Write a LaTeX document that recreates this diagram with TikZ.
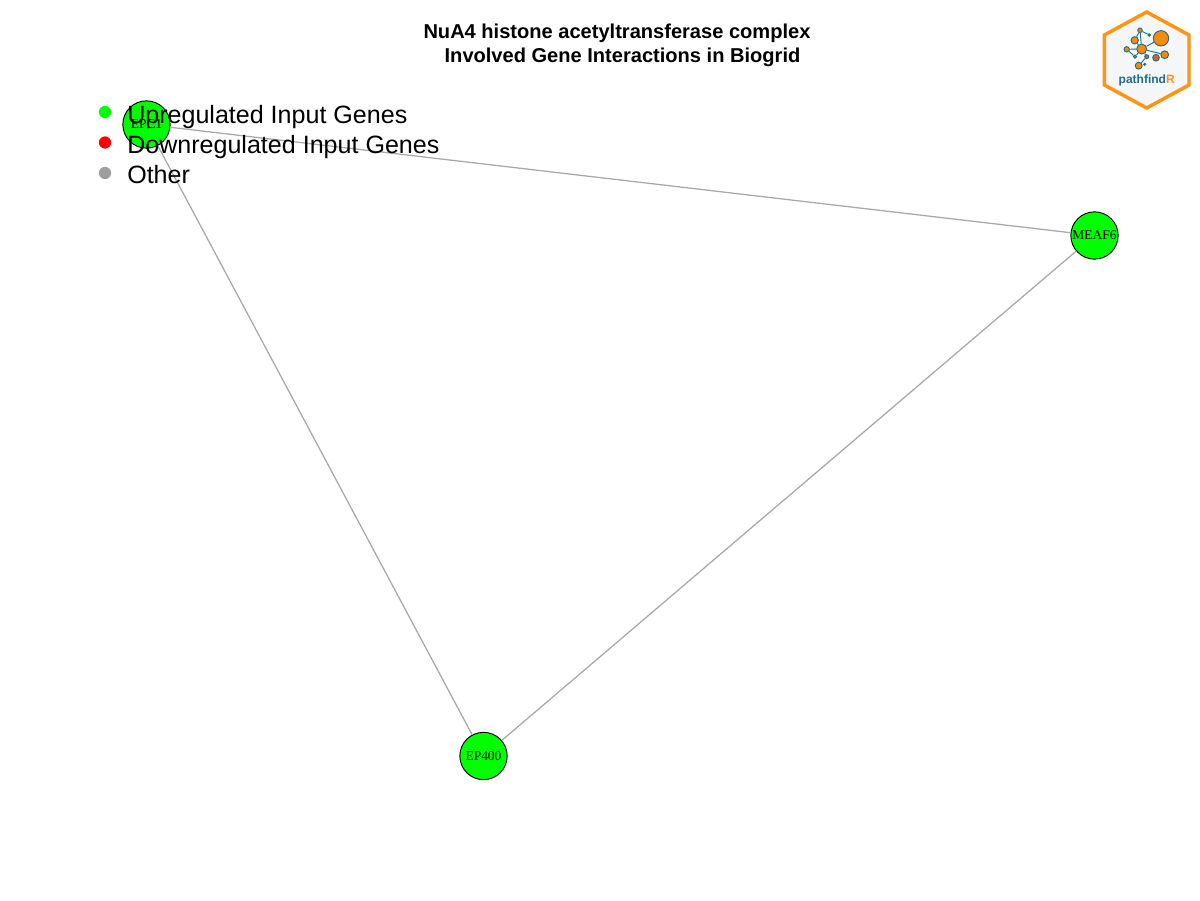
\documentclass[tikz,border=0pt]{standalone}
\usepackage{fontspec}
\setmainfont{Liberation Sans}
\newfontfamily\genefont{Liberation Serif}
\definecolor{gene}{HTML}{00FF00}
\definecolor{edgegray}{HTML}{A8A8A8}
\definecolor{leggray}{HTML}{9E9E9E}
\definecolor{logoorange}{HTML}{FF9412}
\definecolor{logofill}{HTML}{F4F6F8}
\definecolor{logoblue}{HTML}{1F6E8C}
\definecolor{logonode}{HTML}{F58A0B}
\definecolor{logored}{HTML}{F0561D}
\tikzset{
  genenode/.style={circle,draw=black,line width=0.7pt,fill=gene,minimum size=35.5pt,inner sep=0pt,font=\genefont\fontsize{10.1pt}{11pt}\selectfont,text=black},
  geneedge/.style={draw=edgegray,line width=0.95pt},
  legdot/.style={circle,minimum size=9.2pt,inner sep=0pt},
  legtext/.style={anchor=west,inner sep=0pt,font=\fontsize{18.8pt}{20pt}\selectfont,text=black},
  titletext/.style={inner sep=0pt,font=\bfseries\fontsize{15.05pt}{17pt}\selectfont,text=black},
  lnode/.style={circle,draw=logoblue,line width=0.7pt,fill=logonode,inner sep=0pt},
  ledge/.style={draw=logoblue,line width=0.7pt},
}
\begin{document}
\begin{tikzpicture}[x=0.75pt,y=-0.75pt]
\useasboundingbox (0,0) rectangle (1200,900);
% graph
\node[genenode] (epc) at (146.5,124.5) {EPC1};
\node[genenode] (meaf) at (1094.5,235.5) {MEAF6};
\node[genenode] (ep) at (483.5,756) {EP400};
\draw[geneedge] (epc) -- (meaf);
\draw[geneedge] (epc) -- (ep);
\draw[geneedge] (meaf) -- (ep);
% title
\node[titletext] (t1) at (617,33) {NuA4 histone acetyltransferase complex};
\node[titletext] (t2) at (622.5,57) {Involved Gene Interactions in Biogrid};
% legend
\node[legdot,fill=gene] (d1) at (105,112) {};
\node[legdot,fill=red] (d2) at (105,142.5) {};
\node[legdot,fill=leggray] (d3) at (105,173) {};
\node[legtext] (l1) at (127,117) {Upregulated Input Genes};
\node[legtext] (l2) at (127,147) {Downregulated Input Genes};
\node[legtext] (l3) at (127,175) {Other};
% logo
\draw[draw=logoorange,fill=logofill,line width=2.6pt,line join=miter]
  (1146.7,12) -- (1189,35) -- (1189,85) -- (1146.7,108) -- (1104.3,85) -- (1104.3,35) -- cycle;
\node[lnode,minimum size=11.5pt] (a) at (1161,38.3) {};
\node[lnode,minimum size=7.5pt] (b) at (1141.7,49) {};
\node[lnode,minimum size=5.5pt] (c) at (1134.7,40.3) {};
\node[lnode,minimum size=4pt] (d) at (1126.7,49.3) {};
\node[lnode,minimum size=3.4pt] (e) at (1140,30.3) {};
\node[lnode,minimum size=1.8pt,fill=logoblue] (f) at (1149.3,35) {};
\node[lnode,minimum size=2.4pt] (g) at (1135,56.7) {};
\node[lnode,minimum size=5.8pt] (h) at (1164.7,54.7) {};
\node[lnode,minimum size=5pt,fill=logored] (i) at (1156,57.7) {};
\node[lnode,minimum size=3pt,fill=logored] (j) at (1146.7,56.7) {};
\node[lnode,minimum size=5.2pt] (k) at (1138.7,65.7) {};
\node[lnode,minimum size=1.6pt,fill=logored] (m) at (1144.7,64.3) {};
\path[ledge] (b) -- (a) (b) -- (c) (b) -- (d) (b) -- (h) (b) -- (g) (c) -- (e) (e) -- (f) (e) -- (b) (j) -- (k) (j) -- (b) (d) -- (g);
\node[inner sep=0pt,font=\bfseries\fontsize{9pt}{10pt}\selectfont] (lt) at (1146.7,80) {\textcolor{logoblue}{pathfind}\textcolor{logoorange}{R}};
\end{tikzpicture}
\end{document}
